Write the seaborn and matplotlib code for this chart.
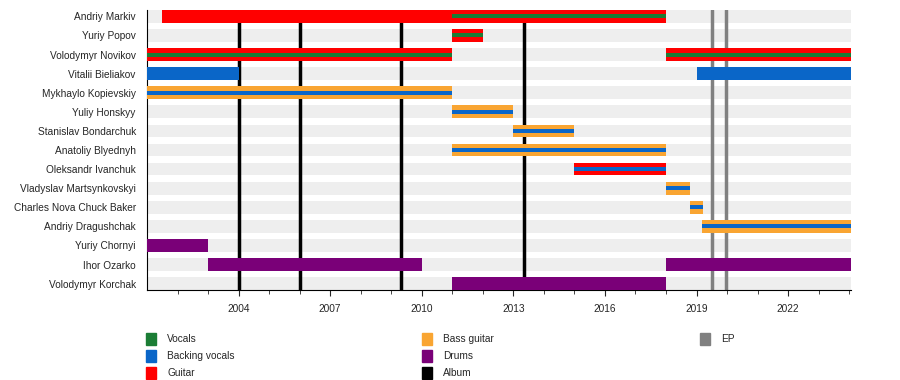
import matplotlib
matplotlib.use("Agg")
import matplotlib.pyplot as plt
import seaborn as sns
from matplotlib.patches import Rectangle

members = ["Andriy Markiv", "Yuriy Popov", "Volodymyr Novikov", "Vitalii Bieliakov",
           "Mykhaylo Kopievskiy", "Yuliy Honskyy", "Stanislav Bondarchuk", "Anatoliy Blyednyh",
           "Oleksandr Ivanchuk", "Vladyslav Martsynkovskyi", "Charles Nova Chuck Baker",
           "Andriy Dragushchak", "Yuriy Chornyi", "Ihor Ozarko", "Volodymyr Korchak"]

# one entry per span: member, start, end, main role, inner stripe role
span_member = ["Andriy Markiv", "Andriy Markiv", "Yuriy Popov", "Volodymyr Novikov",
               "Volodymyr Novikov", "Vitalii Bieliakov", "Vitalii Bieliakov",
               "Mykhaylo Kopievskiy", "Yuliy Honskyy", "Stanislav Bondarchuk",
               "Anatoliy Blyednyh", "Oleksandr Ivanchuk", "Vladyslav Martsynkovskyi",
               "Charles Nova Chuck Baker", "Andriy Dragushchak", "Yuriy Chornyi",
               "Ihor Ozarko", "Ihor Ozarko", "Volodymyr Korchak"]
span_start = [2001.5, 2011.0, 2011.0, 2001.0, 2018.0, 2001.0, 2019.0, 2001.0, 2011.0, 2013.0,
              2011.0, 2015.0, 2018.0, 2018.77, 2019.17, 2001.0, 2003.0, 2018.0, 2011.0]
span_end = [2011.0, 2018.0, 2012.0, 2011.0, 2024.06, 2004.0, 2024.06, 2011.0, 2013.0, 2015.0,
            2018.0, 2018.0, 2018.77, 2019.2, 2024.06, 2003.0, 2010.0, 2024.06, 2018.0]
span_role = ["Guitar", "Guitar", "Guitar", "Guitar", "Guitar", "Backing vocals",
             "Backing vocals", "Bass guitar", "Bass guitar", "Bass guitar", "Bass guitar",
             "Guitar", "Bass guitar", "Bass guitar", "Bass guitar", "Drums", "Drums", "Drums",
             "Drums"]
span_inner = [None, "Vocals", "Vocals", "Vocals", "Vocals", None, None, "Backing vocals",
              "Backing vocals", "Backing vocals", "Backing vocals", "Backing vocals",
              "Backing vocals", "Backing vocals", "Backing vocals", None, None, None, None]

albums = [2004.0, 2006.0, 2009.33, 2013.35]
eps = [2019.5, 2019.95]

roles = ["Vocals", "Backing vocals", "Guitar", "Bass guitar", "Drums", "Album", "EP"]
role_colors = {"Vocals": "#1b7d35", "Backing vocals": "#0a66c8", "Guitar": "#ff0000",
               "Bass guitar": "#f9a532", "Drums": "#7a0078", "Album": "#000000",
               "EP": "#808080"}

x_min, x_max = 2001.0, 2024.06

sns.set_theme(style="white")
plt.rcParams["font.family"] = ["Liberation Sans", "DejaVu Sans"]

fig = plt.figure(figsize=(9, 3.8), dpi=100)
ax = fig.add_axes([0.1633, 0.2368, 0.9456 - 0.1633, 0.9737 - 0.2368])

pos = {m: i for i, m in enumerate(members)}
bar_h = 0.665

# background stripes
ax.barh(range(len(members)), x_max - x_min, left=x_min, height=bar_h,
        color="#eeeeee", linewidth=0, zorder=1)

for x in albums:
    ax.axvline(x, color=role_colors["Album"], lw=2.5, zorder=2)
for x in eps:
    ax.axvline(x, color=role_colors["EP"], lw=2.5, zorder=2)

for m, s, e, r, inner in zip(span_member, span_start, span_end, span_role, span_inner):
    ax.barh(pos[m], e - s, left=s, height=bar_h, color=role_colors[r], linewidth=0, zorder=3)
    if inner:
        ax.barh(pos[m], e - s, left=s, height=0.21, color=role_colors[inner],
                linewidth=0, zorder=4)

ax.set_xlim(x_min, x_max)
ax.set_ylim(len(members) - 1 + bar_h / 2, -bar_h / 2)
ax.set_yticks(range(len(members)))
ax.set_yticklabels(members, fontsize=7.3)
ax.tick_params(axis="y", length=0, pad=8)
ax.set_xticks(range(2004, 2024, 3))
ax.set_xticks(range(2002, 2025), minor=True)
ax.tick_params(axis="x", which="major", length=4, width=0.8, labelsize=7.3, pad=6,
               direction="out", bottom=True)
ax.tick_params(axis="x", which="minor", length=3, width=0.6, direction="out", bottom=True)
sns.despine(ax=ax, top=True, right=True)
for sp in ["left", "bottom"]:
    ax.spines[sp].set_color("black")
    ax.spines[sp].set_linewidth(0.8)

# legend, three columns
legend_cols = [(146, roles[0:3]), (422, roles[3:6]), (700, roles[6:7])]
row_y = [339, 356, 373]
for cx, names in legend_cols:
    for name, cy in zip(names, row_y):
        fig.add_artist(Rectangle((cx / 900, 1 - (cy + 6) / 380), 10 / 900, 12 / 380,
                                 color=role_colors[name], transform=fig.transFigure))
        fig.text((cx + 21) / 900, 1 - cy / 380, name, fontsize=7.3, va="center", ha="left")

fig.savefig("out.png", dpi=100)
